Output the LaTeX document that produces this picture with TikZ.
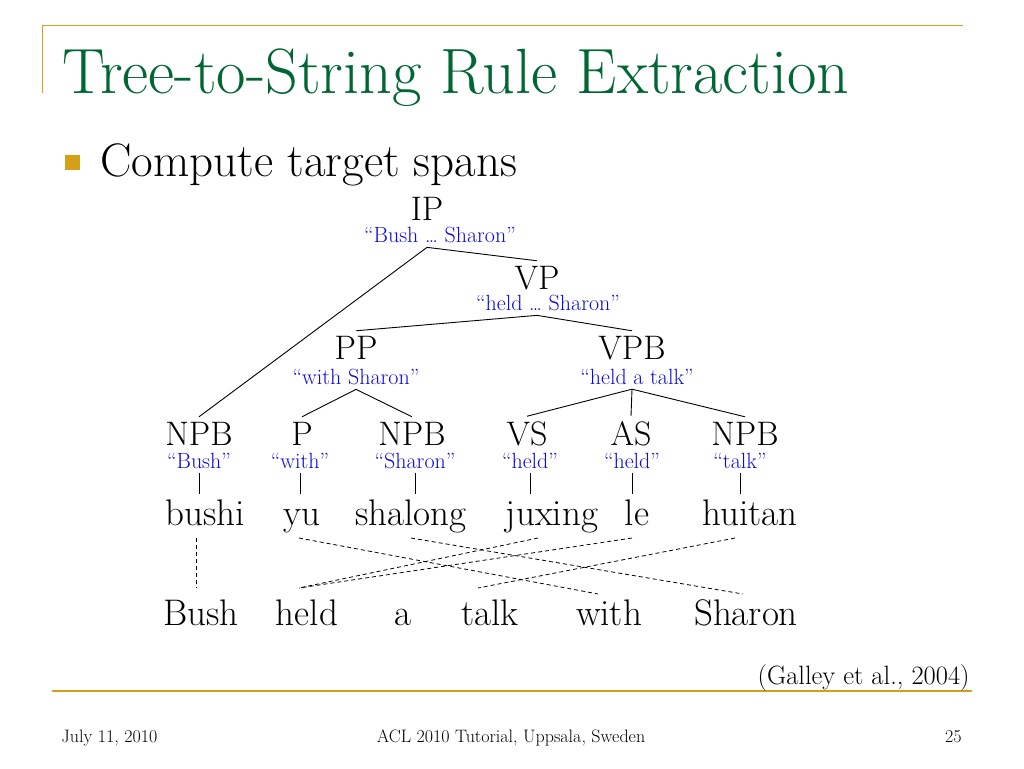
\documentclass[tikz,border=0pt]{standalone}
\usepackage{fontspec}
\usepackage{tikz}
\usetikzlibrary{arrows}
\definecolor{slideGold}{RGB}{212,160,23}
\definecolor{slideGreen}{RGB}{0,102,51}
\definecolor{spanBlue}{RGB}{10,10,225}
\tikzstyle{cat} = [anchor=base, inner sep=1pt, outer sep=4pt, font=\fontsize{34}{36}\selectfont]
\tikzstyle{spanlab} = [anchor=base, inner sep=1pt, outer sep=4pt, text=spanBlue, font=\fontsize{22}{24}\selectfont]
\tikzstyle{srcword} = [anchor=base, inner sep=1pt, outer sep=4pt, text height=26pt, text depth=8pt, font=\fontsize{37}{40}\selectfont]
\tikzstyle{tgtword} = [srcword]
\tikzstyle{link} = [dash pattern=on 4pt off 3pt, line width=0.8pt]
\tikzstyle{bullet} = [fill=slideGold, rectangle, minimum size=15pt, inner sep=0pt]
\tikzstyle{foot} = [anchor=base, inner sep=0pt, font=\fontsize{18}{20}\selectfont]

\begin{document}
\begin{tikzpicture}[x=1pt, y=-1pt, line width=0.9pt]
    \useasboundingbox[fill=white] (0,0) rectangle (1024,768);
    % frame of the slide
    \draw[slideGold, line width=1.5pt] (42,25.7) -- (963,25.7);
    \draw[slideGold, line width=1pt] (42,25.7) -- (42,93);
    \draw[slideGold, line width=2.2pt] (52,691) -- (972,691);
    \node[anchor=base west, inner sep=0pt, text=slideGreen, font=\fontsize{64}{70}\selectfont] (title) at (62,93) {Tree-to-String Rule Extraction};
    \node[bullet] (blt) at (72,162.5) {};
    \node[anchor=base west, inner sep=0pt, font=\fontsize{47}{52}\selectfont] (point) at (100,176) {Compute target spans};

    % tree
    \node[cat] (ip) at (427,220) {IP};
    \node[spanlab] (ipsp) at (440,242) {``Bush \dots{} Sharon''};
    \node[cat] (vp) at (537,289) {VP};
    \node[spanlab] (vpsp) at (548,310) {``held \dots{} Sharon''};
    \node[cat] (pp) at (356,359) {PP};
    \node[spanlab] (ppsp) at (356,384) {``with Sharon''};
    \node[cat] (vpb) at (632,359) {VPB};
    \node[spanlab] (vpbsp) at (637,384) {``held a talk''};

    \node[cat] (npbA) at (199,445) {NPB};
    \node[spanlab] (npbAsp) at (199,468) {``Bush''};
    \node[cat] (p) at (302,445) {P};
    \node[spanlab] (psp) at (300,468) {``with''};
    \node[cat] (npbB) at (412,445) {NPB};
    \node[spanlab] (npbBsp) at (415,468) {``Sharon''};
    \node[cat] (vs) at (527,445) {VS};
    \node[spanlab] (vssp) at (530,468) {``held''};
    \node[cat] (as) at (631,445) {AS};
    \node[spanlab] (assp) at (632,468) {``held''};
    \node[cat] (npbC) at (745,445) {NPB};
    \node[spanlab] (npbCsp) at (740,468) {``talk''};

    \draw (ip |- ipsp.south) -- (vp.north);
    \draw (ip |- ipsp.south) -- (npbA.north);
    \draw (vp |- vpsp.south) -- (pp.north);
    \draw (vp |- vpsp.south) -- (vpb.north);
    \draw (pp |- ppsp.south) -- (p.north);
    \draw (pp |- ppsp.south) -- (npbB.north);
    \draw (vpb |- vpbsp.south) -- (vs.north);
    \draw (vpb |- vpbsp.south) -- (as.north);
    \draw (vpb |- vpbsp.south) -- (npbC.north);

    % source string
    \node[srcword] (bushi) at (205,525) {bushi};
    \node[srcword] (yu) at (302,525) {yu};
    \node[srcword] (shalong) at (411,525) {shalong};
    \node[srcword] (juxing) at (552,525) {juxing};
    \node[srcword] (le) at (637,525) {le};
    \node[srcword] (huitan) at (750,525) {huitan};

    \draw[line width=0.7pt] (npbAsp.south) -- (npbAsp.south |- bushi.north);
    \draw[line width=0.7pt] (psp.south) -- (psp.south |- yu.north);
    \draw[line width=0.7pt] (npbBsp.south) -- (npbBsp.south |- shalong.north);
    \draw[line width=0.7pt] (vssp.south) -- (vssp.south |- juxing.north);
    \draw[line width=0.7pt] (assp.south) -- (assp.south |- le.north);
    \draw[line width=0.7pt] (npbCsp.south) -- (npbCsp.south |- huitan.north);

    % target string
    \node[tgtword] (Bush) at (201,625) {Bush};
    \node[tgtword] (held) at (307,625) {held};
    \node[tgtword] (a) at (403,625) {a};
    \node[tgtword] (talk) at (490,625) {talk};
    \node[tgtword] (with) at (609,625) {with};
    \node[tgtword] (Sharon) at (746,625) {Sharon};

    % word alignment
    \draw[link] ([xshift=-9pt]bushi.south) -- ([xshift=-5pt,yshift=6pt]Bush.north);
    \draw[link] ([xshift=-3pt]yu.south) -- ([xshift=-11pt]with.north);
    \draw[link] (shalong.south) -- ([xshift=-3pt]Sharon.north);
    \draw[link] ([xshift=-14pt]juxing.south) -- ([xshift=-8pt,yshift=6pt]held.north);
    \draw[link] ([xshift=-5pt]le.south) -- ([xshift=-8pt,yshift=6pt]held.north);
    \draw[link] ([xshift=-15pt]huitan.south) -- ([xshift=-12pt,yshift=6pt]talk.north);

    % footer
    \node[anchor=base east, inner sep=0pt, font=\fontsize{26.5}{30}\selectfont] (cite) at (970,684) {(Galley et al., 2004)};
    \node[foot, anchor=base west] (date) at (61,742) {July 11, 2010};
    \node[foot] (venue) at (511,742) {ACL 2010 Tutorial, Uppsala, Sweden};
    \node[foot, anchor=base east] (page) at (962,742) {25};
\end{tikzpicture}
\end{document}
